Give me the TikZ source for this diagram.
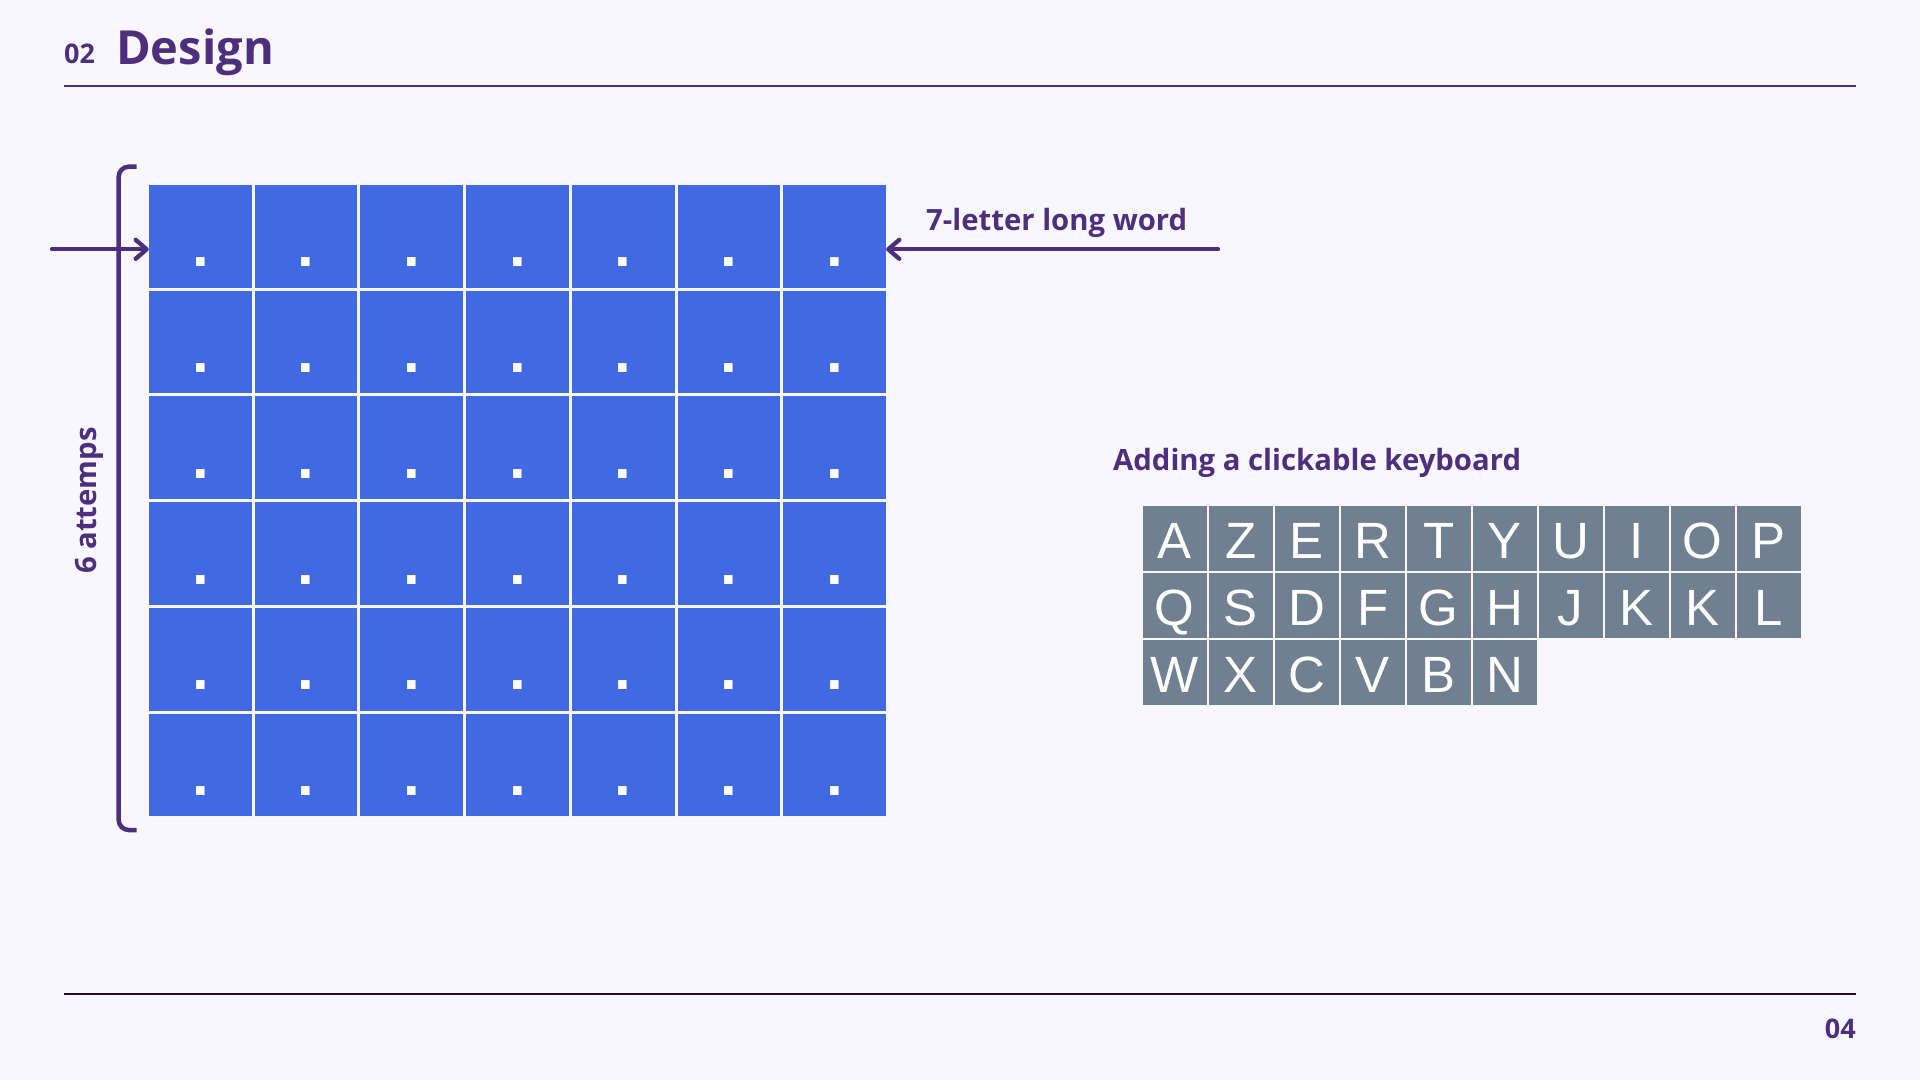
\documentclass[tikz,border=0pt]{standalone}
\usepackage{fontspec}
\setmainfont{Open Sans}
\newfontfamily\keyfont{Liberation Sans}
\usetikzlibrary{arrows.meta,calc}

\definecolor{slidebg}{HTML}{F9F7FE}
\definecolor{titlepurple}{HTML}{4E2F7E}
\definecolor{footrule}{HTML}{1E0A3C}
\definecolor{cellblue}{HTML}{4169E1}
\definecolor{keygray}{HTML}{708090}

\begin{document}
\begin{tikzpicture}[
  x=1pt, y=-1pt,
  title/.style={text=titlepurple,inner sep=0pt,font=\bfseries\fontsize{47}{50}\selectfont},
  pagenum/.style={text=titlepurple,inner sep=0pt,font=\bfseries\fontsize{27}{30}\selectfont},
  note/.style={text=titlepurple,inner sep=0pt,font=\bfseries\fontsize{29.3}{34}\selectfont},
  cell/.style={fill=cellblue,minimum width=102.7pt,minimum height=102.7pt,inner sep=0pt},
  dot/.style={text=white,inner sep=0pt,font=\keyfont\bfseries\fontsize{60}{60}\selectfont},
  key/.style={fill=keygray,text=white,minimum width=64pt,minimum height=64.5pt,
    inner sep=0pt,text height=40.6pt,text depth=0pt,font=\keyfont\fontsize{51}{51}\selectfont},
  pointer/.style={draw=titlepurple,line width=4.3pt,line cap=round,
    -{Straight Barb[length=11pt,width=19pt,round]}}]
\fill[slidebg] (0,0) rectangle (1920,1080);
\useasboundingbox (0,0) rectangle (1920,1080);

% header and footer
\node[pagenum,anchor=base west] (secnum) at (64,63) {02};
\node[title,anchor=base west] (title) at (116,64) {Design};
\draw[titlepurple,line width=2pt] (64,85.7) -- (1856,85.7);
\draw[footrule,line width=2pt] (64,994) -- (1856,994);
\node[pagenum,anchor=base east] (slidenum) at (1856,1038) {04};

% board
\foreach \r in {1,...,6}
  \foreach \c in {1,...,7} {
    \node[cell] (cell-\r-\c) at ({149+(\c-1)*105.7+51.35},{185+(\r-1)*105.7+51.35}) {};
    \node[dot,anchor=base] (dot-\r-\c) at ([yshift=21pt]cell-\r-\c.south) {.};
  }

\draw[titlepurple,line width=4.5pt,rounded corners=10pt]
  (136.7,166.7) -- (118.7,166.7) -- (118.7,830) -- (136.7,830);
\node[note,rotate=90,anchor=base] (attempts) at (96,500.5) {6 attemps};

\coordinate (rowin) at (52,249.3);
\draw[pointer] (rowin) -- (rowin -| cell-1-1.west);

\coordinate (wordin) at (1218,249.3);
\draw[pointer] (wordin) -- (wordin -| cell-1-7.east);
\node[note,anchor=base west] (wordlabel) at (926,230) {7-letter long word};

% keyboard
\node[note,anchor=base west] (kbdlabel) at (1113,470) {Adding a clickable keyboard};
\foreach \k [count=\i] in {A,Z,E,R,T,Y,U,I,O,P}
  \node[key] (key-1-\i) at ({1142.7+32+(\i-1)*66},{506+32.3}) {\k};
\foreach \k [count=\i] in {Q,S,D,F,G,H,J,K,K,L}
  \node[key] (key-2-\i) at ({1142.7+32+(\i-1)*66},{573.3+32.3}) {\k};
\foreach \k [count=\i] in {W,X,C,V,B,N}
  \node[key] (key-3-\i) at ({1142.7+32+(\i-1)*66},{640+32.3}) {\k};
\end{tikzpicture}
\end{document}
